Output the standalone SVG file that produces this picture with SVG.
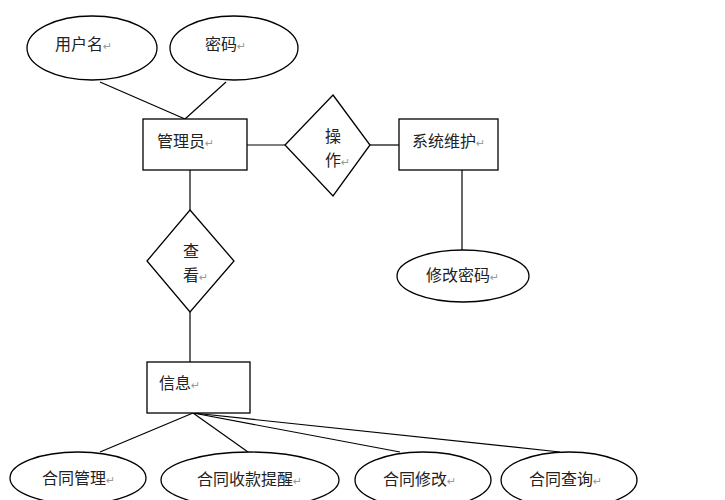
<svg xmlns="http://www.w3.org/2000/svg" width="725" height="500" viewBox="0 0 725 500">
<style>
.s{fill:#fff;stroke:#000;stroke-width:1.3}
.c line{stroke:#000;stroke-width:1.2}
text{font-family:"Noto Sans CJK SC",sans-serif;font-size:16px;fill:#222}
.m{fill:#999;font-family:"DejaVu Sans",sans-serif;font-size:11px}
</style>
<rect width="725" height="500" fill="#fff"/>
<g class="c">
<line x1="100" y1="82" x2="185" y2="119"/>
<line x1="226" y1="82" x2="185" y2="119"/>
<line x1="247" y1="145" x2="285" y2="145"/>
<line x1="370" y1="145" x2="399" y2="145"/>
<line x1="462" y1="170" x2="462" y2="250"/>
<line x1="190" y1="170" x2="190" y2="210"/>
<line x1="190" y1="312" x2="190" y2="362"/>
<line x1="193" y1="413" x2="100" y2="452"/>
<line x1="193" y1="413" x2="248" y2="452"/>
<line x1="193" y1="413" x2="400" y2="452"/>
<line x1="193" y1="413" x2="560" y2="452"/>
</g>
<g id="yonghuming"><ellipse class="s" cx="92" cy="48" rx="65" ry="32"/><text x="55" y="50">用户名<tspan class="m">↵</tspan></text></g>
<g id="mima"><ellipse class="s" cx="234" cy="48" rx="64" ry="32"/><text x="205" y="50">密码<tspan class="m">↵</tspan></text></g>
<g id="guanliyuan"><rect class="s" x="143" y="119" width="104" height="51"/><text x="157" y="147">管理员<tspan class="m">↵</tspan></text></g>
<g id="caozuo"><polygon class="s" points="333,95 370,145 333,196 285,145"/><text x="325" y="142">操</text><text x="325" y="166" fill="#666">作<tspan class="m">↵</tspan></text></g>
<g id="xitongweihu"><rect class="s" x="399" y="119" width="99" height="51"/><text x="412" y="147">系统维护<tspan class="m">↵</tspan></text></g>
<g id="xiugaimima"><ellipse class="s" cx="463" cy="276" rx="66" ry="26"/><text x="426" y="281">修改密码<tspan class="m">↵</tspan></text></g>
<g id="chakan"><polygon class="s" points="190,210 234,261 190,312 147,261"/><text x="183" y="257">查</text><text x="183" y="281">看<tspan class="m">↵</tspan></text></g>
<g id="xinxi"><rect class="s" x="147" y="362" width="103" height="51"/><text x="159" y="389">信息<tspan class="m">↵</tspan></text></g>
<g id="htgl"><ellipse class="s" cx="78" cy="478" rx="68" ry="26"/><text x="42" y="484">合同管理<tspan class="m">↵</tspan></text></g>
<g id="htsktx"><ellipse class="s" cx="250" cy="480" rx="89" ry="28"/><text x="197" y="485">合同收款提醒<tspan class="m">↵</tspan></text></g>
<g id="htxg"><ellipse class="s" cx="423" cy="480" rx="68" ry="28"/><text x="383" y="485">合同修改<tspan class="m">↵</tspan></text></g>
<g id="htcx"><ellipse class="s" cx="569" cy="480" rx="68" ry="28"/><text x="529" y="485">合同查询<tspan class="m">↵</tspan></text></g>
</svg>
